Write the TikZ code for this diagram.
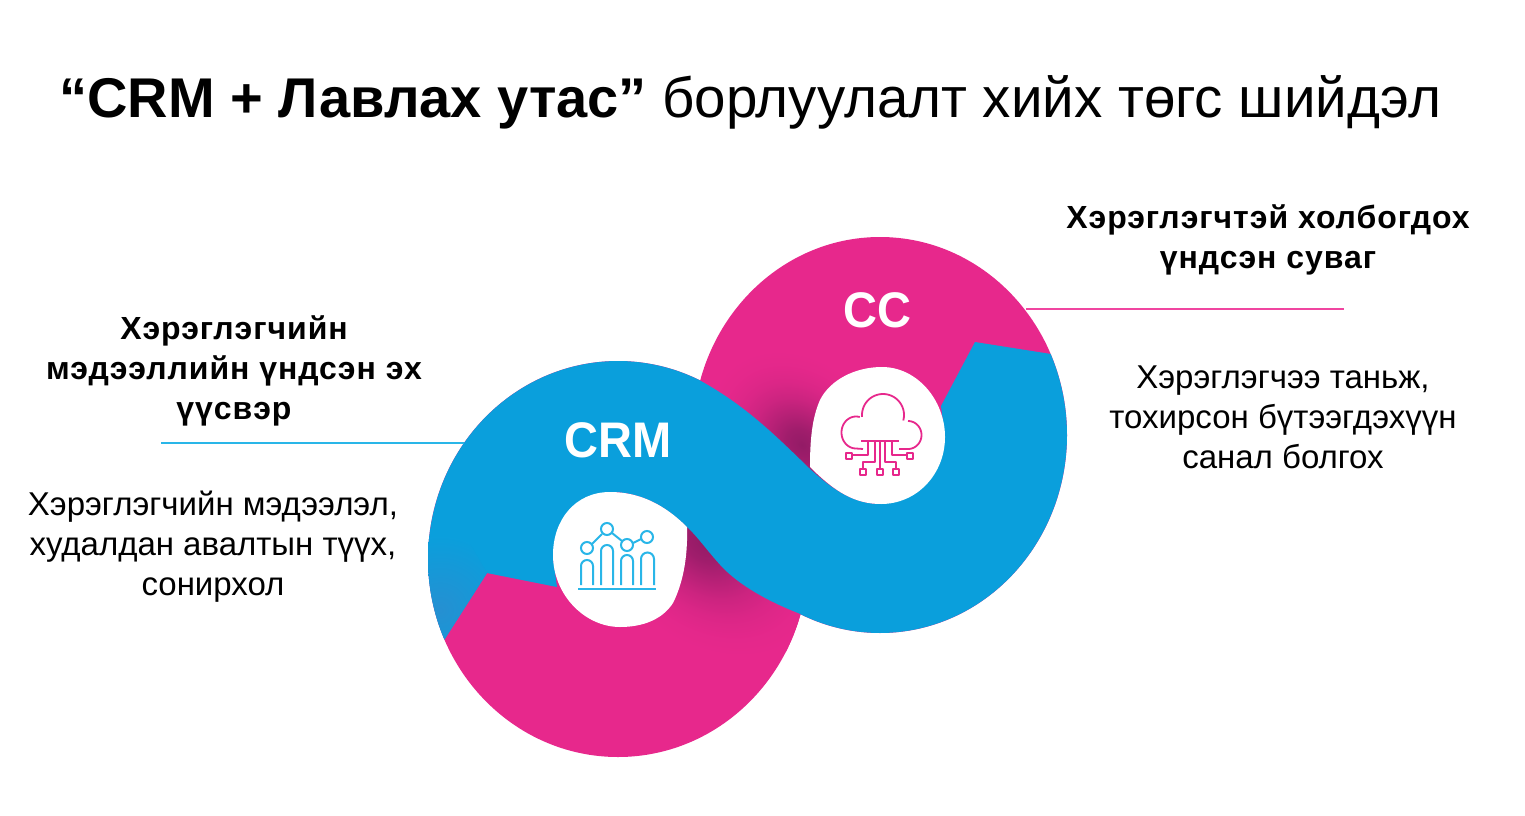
\documentclass[tikz,border=0pt]{standalone}
\usepackage{fontspec}
\setmainfont{Liberation Sans}
\newfontfamily\spaced[LetterSpace=3]{Liberation Sans}
\definecolor{pinkc}{HTML}{E7288C}
\definecolor{bluec}{HTML}{0A9FDC}
\definecolor{darkp}{HTML}{931B66}
\definecolor{blued}{HTML}{2C8CCF}
\definecolor{lblue}{HTML}{29B6E8}
\definecolor{leadpink}{HTML}{F045A0}
\pgfdeclareradialshading{softshadow}{\pgfpoint{0bp}{0bp}}{color(0bp)=(darkp); color(4bp)=(darkp!85!pinkc); color(8bp)=(darkp!58!pinkc); color(12bp)=(darkp!32!pinkc); color(16bp)=(darkp!14!pinkc); color(20bp)=(darkp!4!pinkc); color(24bp)=(pinkc); color(50bp)=(pinkc)}
\tikzset{
  titletext/.style={inner sep=0,anchor=base west,font=\fontsize{56}{60}\selectfont},
  headtext/.style={inner sep=0,align=center,font=\spaced\bfseries\fontsize{32}{40}\selectfont},
  bodytext/.style={inner sep=0,align=center,font=\fontsize{33}{40}\selectfont},
  loopname/.style={inner sep=0,text=white,font=\bfseries\fontsize{50}{50}\selectfont},
  iconblue/.style={draw=lblue,line width=2pt,fill=none},
  iconpink/.style={draw=pinkc,line width=1.8pt,fill=none,line join=round},
  leadline/.style={line width=2pt},
}
\begin{document}
\begin{tikzpicture}[x=1pt,y=-1pt]
\useasboundingbox (0,0) rectangle (1525,816);
% pink lobes
\fill[pinkc] (618,559) ellipse (190 and 198);
\fill[pinkc] (880,435) ellipse (187 and 198);
% shadow cast by the band
\begin{scope}
  \clip (618,559) ellipse (190 and 198);
  \begin{scope}[transform canvas={shift={(703,542)},rotate=-42,xscale=1.4}]
    \shade[shading=softshadow] (0,0) circle (100);
  \end{scope}
\end{scope}
\begin{scope}
  \clip (880,435) ellipse (187 and 198);
  \begin{scope}[transform canvas={shift={(802,445)},rotate=-45,xscale=1.3}]
    \shade[shading=softshadow] (0,0) circle (85);
  \end{scope}
\end{scope}
% blue band
\fill[bluec]
  plot[domain=156:295,samples=70] ({618+190*cos(\x)},{559+198*sin(\x)})
  .. controls (745,405) and (775,435) .. (809,468)
  .. controls (835,492) and (855,504) .. (881,504)
  -- (945,437) -- (941,406) -- (975,342) -- (1051,354)
  -- plot[domain=-24:115.7,samples=70] ({880+187*cos(\x)},{435+198*sin(\x)})
  .. controls (765,600) and (740,585) .. (723,568)
  .. controls (708,552) and (698,537) .. (687,527)
  .. controls (665,505) and (640,492) .. (611,492)
  -- (553,558) -- (557,587) -- (487,573) -- cycle;
\begin{scope}
  \clip plot[domain=156:200,samples=25] ({618+190*cos(\x)},{559+198*sin(\x)}) -- (487,573) -- cycle;
  \shade[inner color=blued!80!bluec,outer color=bluec] (440,610) circle (75);
\end{scope}
% white holes
\fill[white] (810,467) .. controls (810,440) and (812,418) .. (820,400)
  .. controls (830,380) and (855,367) .. (882,367)
  .. controls (917,367) and (945,400) .. (945,437)
  .. controls (945,474) and (917,504) .. (881,504)
  .. controls (855,504) and (835,492) .. (810,467) -- cycle;
\fill[white] (687,527) .. controls (688,560) and (682,585) .. (673,603)
  .. controls (662,620) and (642,627) .. (620,627)
  .. controls (585,627) and (553,595) .. (553,555)
  .. controls (553,520) and (575,492) .. (610,492)
  .. controls (640,492) and (665,505) .. (687,527) -- cycle;
% labels in the loops
\node[loopname,xscale=0.94] (crm) at (618,440) {CRM};
\node[loopname,xscale=0.94] (cc) at (877,310) {CC};
% chart icon
\begin{scope}[iconblue]
  \draw (578,589) -- (656,589);
  \draw (581,585) -- (581,566) arc[start angle=180,end angle=360,radius=6] -- (593,585);
  \draw (601,585) -- (601,551) arc[start angle=180,end angle=360,radius=6] -- (613,585);
  \draw (621,585) -- (621,561) arc[start angle=180,end angle=360,radius=6] -- (633,585);
  \draw (641,585) -- (641,559) arc[start angle=180,end angle=360,radius=6.5] -- (654,585);
  \draw (587,548) circle (6) (607,529) circle (6) (627,545) circle (6) (647,537) circle (6);
  \draw (592,544) -- (602,534) (612,533) -- (622,541) (633,543) -- (641,539);
\end{scope}
% cloud icon
\begin{scope}[iconpink]
  \draw (863,449) -- plot[domain=90:285,samples=40] ({856+14.5*cos(\x)},{432.5+16*sin(\x)});
  \draw plot[domain=175:375,samples=40] ({883+21*cos(\x)},{415+21*sin(\x)});
  \draw plot[domain=-90:90,samples=40] ({908+13.5*cos(\x)},{435+14*sin(\x)}) -- (899,449);
  \draw (861,441) -- (899,441);
  \draw (868,441) -- (868,455) -- (852,455);
  \draw (892,441) -- (892,455) -- (907,455);
  \draw (875,441) -- (875,462) -- (863,462) -- (863,469);
  \draw (880,441) -- (880,469);
  \draw (885,441) -- (885,462) -- (896,462) -- (896,469);
  \draw (846,453) rectangle (852,459) (907,453) rectangle (913,459);
  \draw (860,469) rectangle (866,475) (877,469) rectangle (883,475) (893,469) rectangle (899,475);
\end{scope}
% leader lines
\coordinate (leadL) at (161,443);
\coordinate (bandL) at (464,443);
\coordinate (leadR) at (1344,309);
\coordinate (lobeR) at (1026,309);
\draw[leadline,draw=lblue] (leadL) -- (bandL);
\draw[leadline,draw=leadpink] (lobeR) -- (leadR);
% texts
\node[titletext] (title) at (59,117) {\textbf{“CRM + Лавлах утас”} {\fontsize{56.5}{60}\selectfont борлуулалт хийх төгс шийдэл}};
\node[headtext] (headR) at (1268,240) {Хэрэглэгчтэй холбогдох\\үндсэн суваг};
\node[bodytext] (bodyR) at (1283,417) {Хэрэглэгчээ таньж,\\тохирсон бүтээгдэхүүн\\санал болгох};
\node[headtext] (headL) at (234,371) {Хэрэглэгчийн\\мэдээллийн үндсэн эх\\үүсвэр};
\node[bodytext] (bodyL) at (213,546.5) {Хэрэглэгчийн мэдээлэл,\\худалдан авалтын түүх,\\сонирхол};
\end{tikzpicture}
\end{document}
